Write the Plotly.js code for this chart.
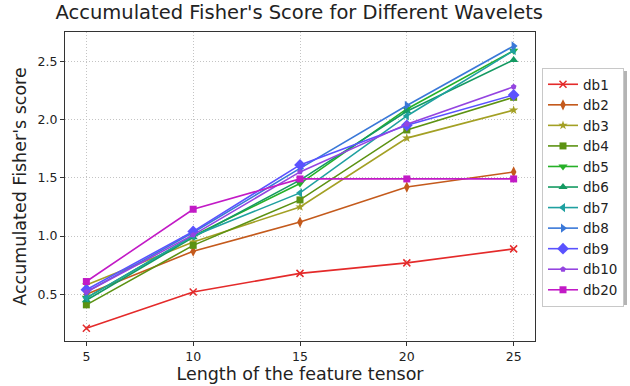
<!DOCTYPE html>
<html>
<head>
<meta charset="utf-8">
<script src="https://cdn.plot.ly/plotly-3.0.1.min.js"></script>
<style>html,body{margin:0;padding:0;background:#fff;}#chart{width:630px;height:386px;}</style>
</head>
<body>
<div id="chart"></div>
<script>
const lengths = [5, 10, 15, 20, 25];
const names = ["db1","db2","db3","db4","db5","db6","db7","db8","db9","db10","db20"];
const db1  = [0.21, 0.52, 0.68, 0.77, 0.89];
const db2  = [0.50, 0.87, 1.12, 1.42, 1.55];
const db3  = [0.58, 0.95, 1.25, 1.84, 2.08];
const db4  = [0.41, 0.92, 1.31, 1.91, 2.19];
const db5  = [0.47, 1.00, 1.45, 2.09, 2.59];
const db6  = [0.45, 0.99, 1.48, 2.07, 2.51];
const db7  = [0.47, 1.00, 1.37, 2.03, 2.59];
const db8  = [0.52, 1.03, 1.58, 2.12, 2.63];
const db9  = [0.54, 1.04, 1.61, 1.95, 2.21];
const db10 = [0.52, 1.01, 1.55, 1.96, 2.28];
const db20 = [0.61, 1.23, 1.49, 1.49, 1.49];
const series = [db1, db2, db3, db4, db5, db6, db7, db8, db9, db10, db20];

const colors = ["#e42a2a","#c45a1c","#a3a024","#5c9212","#26b028","#149a62","#1fa0a0","#3a78d8","#5a52ff","#9444e0","#c21ac6"];
const symbols = ["x-thin-open","diamond-tall","star","square","triangle-down","triangle-up","triangle-left","triangle-right","diamond","pentagon","square"];
const sizes = [7, 8, 7, 7, 8, 8, 8, 8, 9, 6, 7];

const traces = series.map((s, i) => ({
  x: lengths, y: s, name: names[i], type: "scatter", mode: "lines+markers",
  line: {color: colors[i], width: 1.6},
  marker: {symbol: symbols[i], size: sizes[i], color: colors[i], line: {color: colors[i], width: symbols[i] === "x-thin-open" ? 1.5 : 0}}
}));

const axisCommon = {
  showline: true, linecolor: "#333", linewidth: 1, mirror: true,
  ticks: "outside", ticklen: 4, tickcolor: "#333",
  showgrid: true, gridcolor: "#c4c4c4", griddash: "1px,2px", gridwidth: 1,
  zeroline: false, tickfont: {family: "DejaVu Sans", size: 12.5, color: "#222"}
};

const layout = {
  width: 630, height: 386,
  margin: {l: 65, r: 95, t: 32, b: 45},
  paper_bgcolor: "#fff", plot_bgcolor: "#fff",
  title: {text: "Accumulated Fisher's Score for Different Wavelets", font: {family: "DejaVu Sans", size: 19.5, color: "#222"}, x: 0.475, xanchor: "center", y: 0.985, yanchor: "top"},
  xaxis: Object.assign({}, axisCommon, {range: [4, 26], tickvals: lengths, title: {text: "Length of the feature tensor", font: {family: "DejaVu Sans", size: 17.5, color: "#222"}, standoff: 3}}),
  yaxis: Object.assign({}, axisCommon, {range: [0.1, 2.75], tickvals: [0.5, 1.0, 1.5, 2.0, 2.5], ticktext: ["0.5","1.0","1.5","2.0","2.5"], title: {text: "Accumulated Fisher's score", font: {family: "DejaVu Sans", size: 17.5, color: "#222"}, standoff: 6}}),
  legend: {xref: "container", yref: "container", x: 542/630, y: 1 - 68/386, xanchor: "left", yanchor: "top", maxheight: 380, bgcolor: "#fff", bordercolor: "#c8c8c8", borderwidth: 1,
    font: {family: "DejaVu Sans", size: 13.5, color: "#222"}, tracegroupgap: 0},
  shapes: [{type: "rect", xref: "paper", yref: "paper", x0: (545 - 65) / 470, x1: (627 - 65) / 470, y0: (341 - 305) / 309, y1: (341 - 71) / 309, fillcolor: "#b4b4b4", line: {width: 0}, layer: "below"}],
  showlegend: true
};

Plotly.newPlot("chart", traces, layout, {displayModeBar: false, staticPlot: true});
</script>
</body>
</html>
